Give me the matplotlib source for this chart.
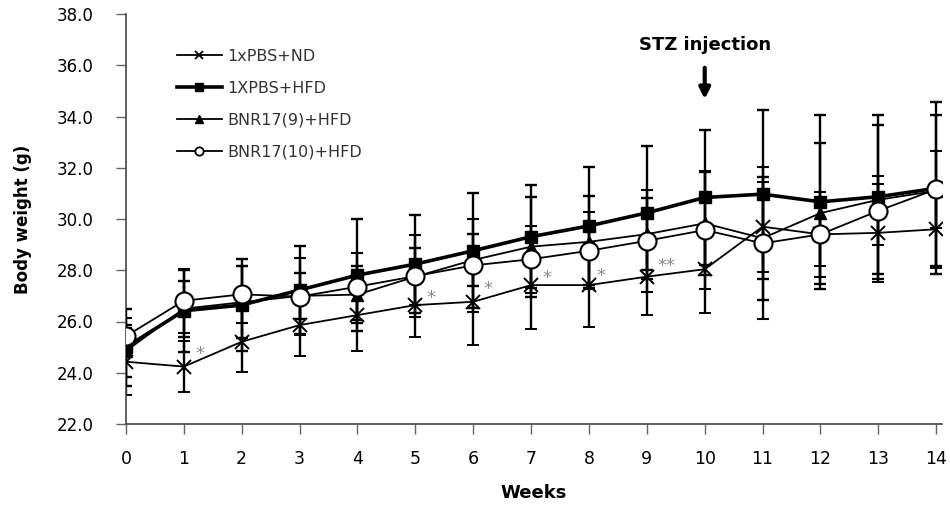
import matplotlib
matplotlib.use("Agg")
import matplotlib.pyplot as plt
from matplotlib.lines import Line2D
import numpy as np

weeks = list(range(15))

labels = ["1xPBS+ND", "1XPBS+HFD", "BNR17(9)+HFD", "BNR17(10)+HFD"]

nd_mean = [24.43, 24.24, 25.21, 25.86, 26.25, 26.64, 26.77, 27.42, 27.42, 27.75, 28.04, 29.70, 29.40, 29.46, 29.60]
nd_err = [1.30, 1.00, 1.20, 1.20, 1.40, 1.25, 1.70, 1.70, 1.65, 1.50, 1.70, 1.75, 1.25, 1.90, 1.50]

hfd_mean = [25.00, 26.42, 26.64, 27.23, 27.81, 28.24, 28.76, 29.31, 29.73, 30.24, 30.84, 30.97, 30.67, 30.87, 31.20]
hfd_err = [1.50, 1.60, 1.80, 1.70, 2.20, 1.90, 2.25, 2.00, 2.30, 2.60, 2.65, 3.30, 3.40, 3.20, 3.35]

b9_mean = [24.85, 26.50, 26.75, 27.00, 27.05, 27.75, 28.40, 28.92, 29.11, 29.41, 29.83, 29.25, 30.23, 30.75, 31.10]
b9_err = [1.00, 1.10, 1.40, 0.90, 1.10, 1.10, 1.00, 1.95, 1.80, 1.40, 2.00, 2.40, 2.75, 2.90, 2.95]

b10_mean = [25.43, 26.81, 27.06, 26.97, 27.36, 27.77, 28.19, 28.43, 28.76, 29.15, 29.57, 29.05, 29.40, 30.32, 31.16]
b10_err = [0.70, 1.25, 1.10, 1.50, 1.30, 1.60, 1.80, 1.30, 1.50, 2.00, 2.30, 2.97, 1.65, 1.35, 1.50]

# significance marks (week, y, text)
sig_x = [1.27, 5.27, 6.26, 7.27, 8.20, 9.34]
sig_y = [24.9, 27.07, 27.4, 27.85, 27.94, 28.3]
sig_t = ["*", "*", "*", "*", "*", "**"]

fig = plt.figure(figsize=(9.5, 5.05), dpi=100)
ax = fig.add_axes([126/950, 1-424/505, (942-126)/950, (424-14)/505])

ekw = dict(ecolor="black", elinewidth=1.7, capsize=4.3, capthick=1.7)

ax.errorbar(weeks, nd_mean, yerr=nd_err, color="black", lw=1.3, marker="x",
            ms=10, mew=1.4, zorder=2, **ekw)
ax.errorbar(weeks, hfd_mean, yerr=hfd_err, color="black", lw=2.6, marker="s",
            ms=9, zorder=3, **ekw)
ax.errorbar(weeks, b9_mean, yerr=b9_err, color="black", lw=1.3, marker="^",
            ms=8, zorder=4, **ekw)
ax.errorbar(weeks, b10_mean, yerr=b10_err, color="black", lw=1.3, marker="o",
            ms=13, mfc="white", mec="black", mew=1.5, zorder=5, **ekw)

for x, y, t in zip(sig_x, sig_y, sig_t):
    ax.text(x, y - 0.15, t, color="#8a8a8a", fontsize=13, ha="center", va="center")

ax.set_xlim(0, 14.1)
ax.set_ylim(22, 38)
ax.set_xticks(weeks)
ax.set_xticklabels([str(w) for w in weeks], fontsize=12.5)
yt = np.arange(22, 38.1, 2)
ax.set_yticks(yt)
ax.set_yticklabels([f"{v:.1f}" for v in yt], fontsize=12)

for s in ["top", "right"]:
    ax.spines[s].set_visible(False)
for s in ["left", "bottom"]:
    ax.spines[s].set_color("#444444")
    ax.spines[s].set_linewidth(1.2)
ax.tick_params(axis="y", direction="out", length=7, width=1, color="#666666", pad=16)
ax.tick_params(axis="x", direction="out", length=7, width=1, color="#666666", pad=12)

ax.set_ylabel("Body weight (g)", fontsize=12, fontweight="bold", labelpad=18)
ax.set_xlabel("Weeks", fontsize=13, fontweight="bold", labelpad=11)

ax.annotate("", xy=(10, 34.68), xytext=(10, 35.9),
            arrowprops=dict(arrowstyle="-|>", lw=3, color="black", mutation_scale=16,
                            shrinkA=0, shrinkB=0))
ax.text(10, 36.8, "STZ injection", fontsize=13, fontweight="bold", ha="center", va="center")

handles = [
    Line2D([], [], color="black", lw=1.3, marker="x", ms=6, mew=1.3),
    Line2D([], [], color="black", lw=2.6, marker="s", ms=6),
    Line2D([], [], color="black", lw=1.3, marker="^", ms=6),
    Line2D([], [], color="black", lw=1.3, marker="o", ms=6, mfc="white", mew=1.3),
]
leg = ax.legend(handles, labels, loc="upper left", bbox_to_anchor=(177/950, 1-49/505),
                bbox_transform=fig.transFigure, frameon=False, borderpad=0, borderaxespad=0,
                handlelength=2.8, handletextpad=0.35, labelspacing=1.05, fontsize=11.5)
for t in leg.get_texts():
    t.set_color("#333333")

fig.savefig("out.png", dpi=100)
